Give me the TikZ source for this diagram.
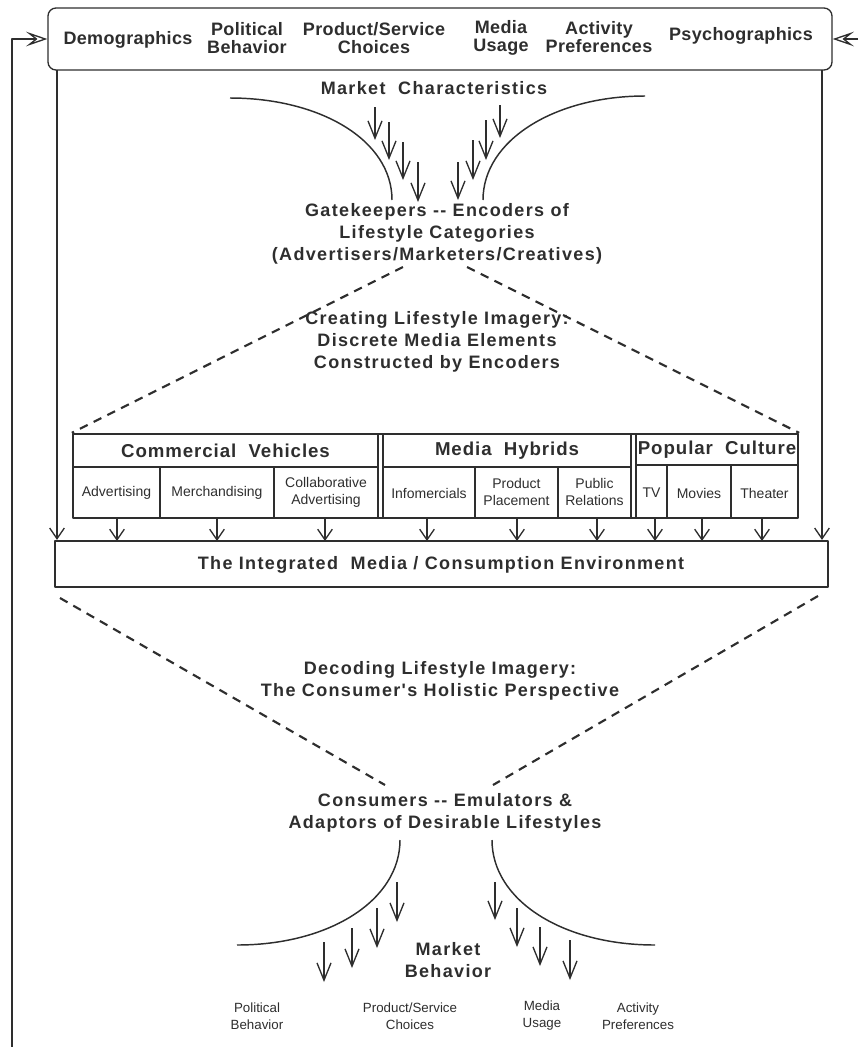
\documentclass[tikz,border=0pt]{standalone}
\usepackage{fontspec}
\setmainfont{Liberation Sans}
\newfontfamily\trk[LetterSpace=7.5]{Liberation Sans}
\newfontfamily\trkb[LetterSpace=2]{Liberation Sans}
\newfontfamily\trkh[LetterSpace=5]{Liberation Sans}
\usetikzlibrary{arrows.meta}
\definecolor{ink}{HTML}{2E2E2E}
\begin{document}
\begin{tikzpicture}[x=0.75pt,y=-0.75pt,line join=round,
  big/.style={font=\trk\bfseries\fontsize{13.5}{16.5}\selectfont,align=center,inner sep=0,text=ink},
  hdr/.style={font=\trkh\bfseries\fontsize{14}{15}\selectfont,align=center,inner sep=0,text=ink},
  topl/.style={font=\trkb\bfseries\fontsize{13.5}{13.5}\selectfont,align=center,inner sep=0,text=ink},
  cell/.style={font=\fontsize{10.5}{12.75}\selectfont,align=center,inner sep=0,text=ink},
  bot/.style={font=\fontsize{10}{12.75}\selectfont,align=center,inner sep=0,text=ink},
  arr/.style={draw=ink,line width=1pt,-{Straight Barb[length=8pt,width=11pt]}},
  farr/.style={draw=ink,line width=1pt,-{Straight Barb[length=13pt,width=10.5pt]}},
  fb/.style={draw=ink,line width=1pt,-{Stealth[open,length=16pt,width=11pt,inset=7pt]}},
  curve/.style={draw=ink,line width=1.1pt},
  dsh/.style={draw=ink,line width=1.6pt,dash pattern=on 6.5pt off 5pt},
  frame/.style={draw=ink,line width=1.7pt},
  thin/.style={draw=ink,line width=0.9pt}]
\useasboundingbox (0,0) rectangle (858,1047);

% top box
\node (top) [draw=ink,line width=1pt,rounded corners=6pt,minimum width=588pt,minimum height=46.5pt,inner sep=0] at (440,39) {};
\node (demo) [topl] at (128,40) {Demographics};
\node (pol) [topl] at (247,38) {Political\\Behavior};
\node (prod) [topl] at (374,38) {Product/Service\\Choices};
\node (med) [topl] at (501,38) {Media\\Usage};
\node (act) [topl] at (599,37) {Activity\\Preferences};
\node (psy) [topl] at (741,36) {Psychographics};

% feedback arrows
\coordinate (fbl) at (12,1047);
\coordinate (fbr) at (858,39);
\draw[fb] (fbl) |- (top.west);
\draw[fb] (fbr) -- (top.east);

% integrated environment box
\node (env) [frame,minimum width=579.75pt,minimum height=34.5pt,inner sep=0] at (441.5,564) {};
\node (envt) [big] at (441,565) {The Integrated\ \ Media / Consumption Environment};

% side verticals
\coordinate (lv) at (57,70);
\coordinate (rv) at (822,70);
\draw[arr] (lv) -- (lv |- env.north);
\draw[arr] (rv) -- (rv |- env.north);

% market characteristics funnel
\node (mc) [big] at (434,88) {Market\ \ Characteristics};
\draw[curve] (230,98) .. controls (320,98) and (392,140) .. (392,200);
\draw[curve] (645,96) .. controls (555,96) and (483,140) .. (483,200);
\foreach \x/\a/\b in {375/107/140,389/122/160,403/142/180,418/162/202,458/162/200,473/140/180,486/120/160,500/105/138}
  \draw[farr] (\x,\a) -- (\x,\b);

% gatekeepers
\node (gate) [big] at (437,234) {Gatekeepers -- Encoders of\\Lifestyle Categories\\(Advertisers/Marketers/Creatives)};

% creating
\node (create) [big] at (437,342) {Creating Lifestyle Imagery:\\Discrete Media Elements\\Constructed by Encoders};

% media table
\node (media) [frame,minimum width=543.75pt,minimum height=63pt,inner sep=0] at (435.5,476) {};
\coordinate (gl) at (403,267);
\coordinate (gr) at (467,267);
\draw[dsh] (gl) -- (media.north west);
\draw[dsh] (gr) -- (media.north east);
\draw[thin] (378,434) -- (378,518) (383,434) -- (383,518);
\draw[thin] (631,434) -- (631,518) (636,434) -- (636,518);
\draw[thin] (73,467) -- (378,467) (383,467) -- (631,467) (636,465) -- (798,465);
\draw[thin] (160,467) -- (160,518) (274,467) -- (274,518);
\draw[thin] (475,467) -- (475,518) (558,467) -- (558,518);
\draw[thin] (667,465) -- (667,518) (731,465) -- (731,518);
\node (cv) [hdr] at (225.5,451) {Commercial\ \ Vehicles};
\node (mh) [hdr] at (507,451) {Media\ \ Hybrids};
\node (pc) [hdr] at (717,450) {Popular\ \ Culture};
\node (adv) [cell] at (116.5,493) {Advertising};
\node (mer) [cell] at (217,493) {Merchandising};
\node (col) [cell] at (326,492) {Collaborative\\Advertising};
\node (inf) [cell] at (429,493) {Infomercials};
\node (pp) [cell] at (516.5,492) {Product\\Placement};
\node (pr) [cell] at (594.5,492) {Public\\Relations};
\node (tv) [cell] at (651.5,493) {TV};
\node (mov) [cell] at (699,493) {Movies};
\node (the) [cell] at (764.5,493) {Theater};
\foreach \x in {117,217,325,427,517,597,655,702,762}
  \draw[arr] (\x,518) -- (\x,541);

% decoding
\node (dec) [big] at (440,681) {Decoding Lifestyle Imagery:\\The Consumer's Holistic Perspective};
\coordinate (dl) at (385,785);
\coordinate (dr) at (493,785);
\coordinate (el) at (60,598);
\coordinate (er) at (818,596);
\draw[dsh] (el) -- (dl);
\draw[dsh] (er) -- (dr);

% consumers
\node (cons) [big] at (445,813) {Consumers -- Emulators \&\\Adaptors of Desirable Lifestyles};
\draw[curve] (400,840) .. controls (400,900) and (330,945) .. (237,945);
\draw[curve] (492,840) .. controls (492,900) and (562,945) .. (655,945);
\foreach \x/\a/\b in {324/942/982,352/928/968,377/908/948,397/882/922,495/882/920,517/908/947,540/927/966,570/940/980}
  \draw[farr] (\x,\a) -- (\x,\b);
\node (mbeh) [big] at (448,960) {Market\\Behavior};

\node (bpol) [bot] at (257,1016) {Political\\Behavior};
\node (bprod) [bot] at (410,1016) {Product/Service\\Choices};
\node (bmed) [bot] at (542,1016) {Media\\Usage};
\node (bact) [bot] at (638,1016) {Activity\\Preferences};
\end{tikzpicture}
\end{document}
